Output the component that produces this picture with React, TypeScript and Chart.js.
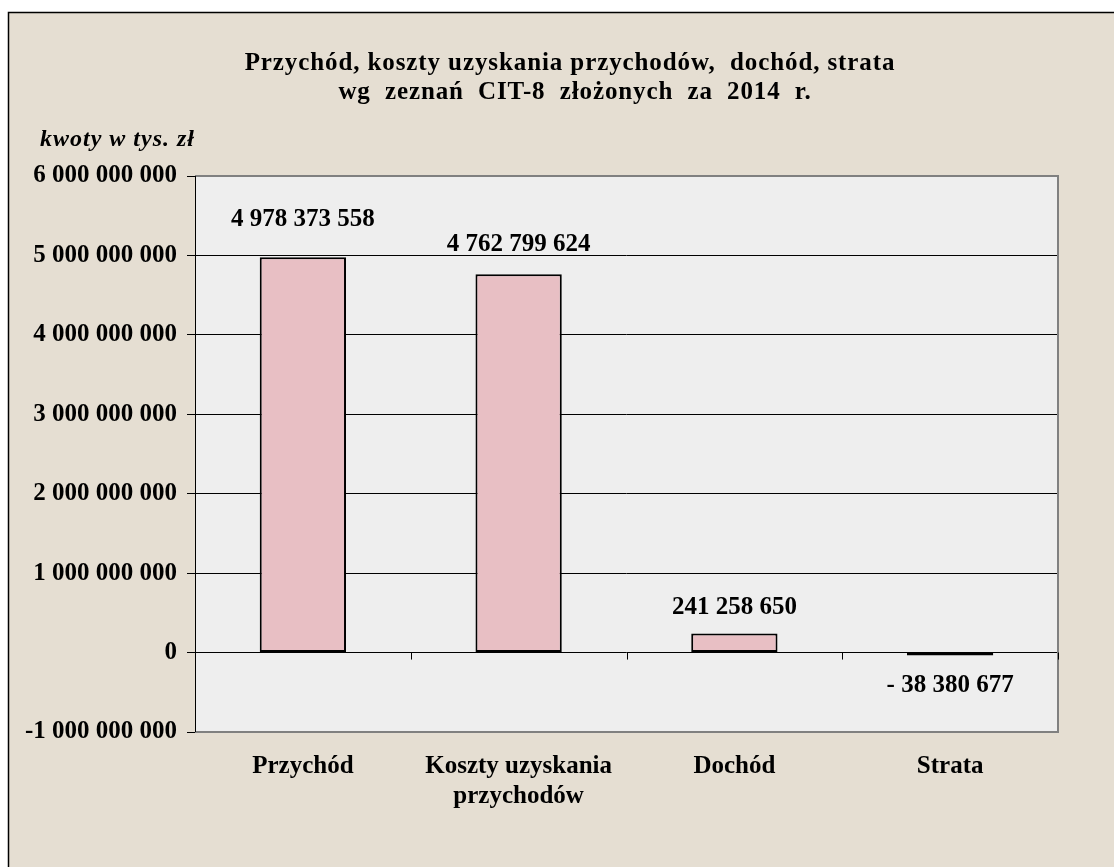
import React, { useEffect, useRef } from "react";
import { Chart, registerables } from "chart.js";

Chart.register(...registerables);

const titleLines = ["Przychód, koszty uzyskania przychodów,  dochód, strata", "wg zeznań CIT-8 złożonych za 2014 r."];
const unitLabel = "kwoty w tys. zł";
const categories: string[][] = [["Przychód"], ["Koszty uzyskania", "przychodów"], ["Dochód"], ["Strata"]];
const values = [4978373558, 4762799624, 241258650, -38380677];
const Y_MIN = -1000000000;
const Y_MAX = 6000000000;
const Y_STEP = 1000000000;
const labelOffsets = [38, 30, 26, 30];

const FONT = "'Liberation Serif', 'Times New Roman', serif";

function fmt(v: number): string {
  const s = Math.abs(Math.round(v)).toString().replace(/\B(?=(\d{3})+(?!\d))/g, " ");
  return v < 0 ? "-" + s : s;
}
function fmtLabel(v: number): string {
  const s = Math.abs(Math.round(v)).toString().replace(/\B(?=(\d{3})+(?!\d))/g, " ");
  return v < 0 ? "- " + s : s;
}

const decorPlugin = {
  id: "decor",
  beforeDraw(chart: any) {
    const { ctx, width, height, chartArea } = chart;
    ctx.save();
    ctx.fillStyle = "#ffffff";
    ctx.fillRect(0, 0, width, height);
    ctx.fillStyle = "#e5ded2";
    ctx.fillRect(8, 12, width, height);
    ctx.strokeStyle = "#000";
    ctx.lineWidth = 1.5;
    ctx.beginPath();
    ctx.moveTo(8.5, height);
    ctx.lineTo(8.5, 12.5);
    ctx.lineTo(width, 12.5);
    ctx.stroke();
    ctx.fillStyle = "#eeeeee";
    ctx.fillRect(chartArea.left, chartArea.top, chartArea.right - chartArea.left, chartArea.bottom - chartArea.top);
    ctx.restore();
  },
  afterDraw(chart: any) {
    const { ctx, chartArea } = chart;
    const xs = chart.scales.x;
    const ys = chart.scales.y;
    ctx.save();
    // plot border
    ctx.strokeStyle = "#808080";
    ctx.lineWidth = 2;
    ctx.beginPath();
    ctx.moveTo(chartArea.left, chartArea.top);
    ctx.lineTo(chartArea.right, chartArea.top);
    ctx.lineTo(chartArea.right, chartArea.bottom);
    ctx.lineTo(chartArea.left, chartArea.bottom);
    ctx.stroke();
    // y axis line
    ctx.strokeStyle = "#000";
    ctx.lineWidth = 1;
    ctx.beginPath();
    ctx.moveTo(chartArea.left + 0.5, chartArea.top);
    ctx.lineTo(chartArea.left + 0.5, chartArea.bottom);
    ctx.stroke();
    // category ticks at zero line
    const y0 = ys.getPixelForValue(0);
    ctx.beginPath();
    for (let i = 0; i <= categories.length; i++) {
      let x;
      if (i === 0) x = chartArea.left;
      else if (i === categories.length) x = chartArea.right;
      else x = (xs.getPixelForValue(i - 1) + xs.getPixelForValue(i)) / 2;
      ctx.moveTo(Math.round(x) + 0.5, y0);
      ctx.lineTo(Math.round(x) + 0.5, y0 + 7);
    }
    ctx.stroke();
    // data labels
    const meta = chart.getDatasetMeta(0);
    ctx.fillStyle = "#000";
    ctx.font = `bold 25px ${FONT}`;
    ctx.textAlign = "center";
    ctx.textBaseline = "middle";
    meta.data.forEach((bar: any, i: number) => {
      const v = values[i];
      const yTop = v >= 0 ? Math.min(bar.y, bar.base) : Math.max(bar.y, bar.base);
      const y = v >= 0 ? yTop - labelOffsets[i] : yTop + labelOffsets[i];
      ctx.fillText(fmtLabel(v), bar.x, y);
    });
    // title
    ctx.font = `bold 25px ${FONT}`;
    ctx.letterSpacing = "0.9px";
    ctx.fillText(titleLines[0], 570, 64);
    (ctx as any).wordSpacing = "7px";
    ctx.fillText(titleLines[1], 575, 93);
    (ctx as any).wordSpacing = "0px";
    // unit label
    ctx.font = `italic bold 24px ${FONT}`;
    ctx.letterSpacing = "1px";
    ctx.textAlign = "left";
    ctx.fillText(unitLabel, 40, 140);
    ctx.restore();
  },
};

export default function App() {
  const ref = useRef<HTMLCanvasElement | null>(null);
  useEffect(() => {
    if (!ref.current) return;
    const chart = new Chart(ref.current, {
      type: "bar",
      data: {
        labels: categories,
        datasets: [
          {
            data: values,
            backgroundColor: "#e8bfc4",
            borderColor: "#000",
            borderWidth: 2,
            borderSkipped: false,
            barPercentage: 0.4,
            categoryPercentage: 1,
          },
        ],
      },
      options: {
        responsive: false,
        animation: false,
        devicePixelRatio: 1,
        layout: { padding: { top: 176, right: 56, left: 0, bottom: 0 } },
        plugins: { legend: { display: false }, title: { display: false }, tooltip: { enabled: false } },
        scales: {
          x: {
            grid: { display: false },
            border: { display: false },
            ticks: {
              color: "#000",
              font: { family: FONT, size: 25, weight: "bold" },
              padding: 12,
              maxRotation: 0,
              autoSkip: false,
            },
            afterFit(scale: any) {
              scale.height = 135;
            },
          },
          y: {
            min: Y_MIN,
            max: Y_MAX,
            border: { display: false },
            grid: {
              color: (c: any) => (c.tick && (c.tick.value === Y_MAX || c.tick.value === Y_MIN) ? "rgba(0,0,0,0)" : "#000"),
              tickColor: "#000",
              tickLength: 8,
              lineWidth: 1,
            },
            ticks: {
              stepSize: Y_STEP,
              color: "#000",
              padding: 10,
              font: { family: FONT, size: 25, weight: "bold" },
              callback: (v: any) => fmt(Number(v)),
            },
            afterFit(scale: any) {
              scale.width = 195;
            },
          },
        },
      },
      plugins: [decorPlugin],
    } as any);
    return () => chart.destroy();
  }, []);
  return (
    <div style={{ position: "absolute", left: 0, top: 0, width: 1114, height: 867 }}>
      <canvas ref={ref} width={1114} height={867} />
    </div>
  );
}
